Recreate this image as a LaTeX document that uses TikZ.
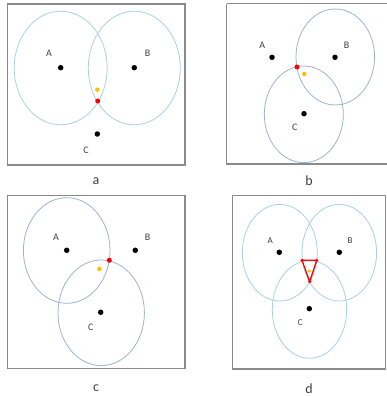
\documentclass[tikz,border=0pt]{standalone}
\usepackage{fontspec}
\setmainfont{Carlito}
\definecolor{lblue}{HTML}{A9D1E2}
\definecolor{gblue}{HTML}{9DB3CE}
\definecolor{framegray}{HTML}{8A8A8A}
\definecolor{ylw}{HTML}{FFC000}
\definecolor{txt}{HTML}{404040}
\begin{document}
\begin{tikzpicture}[x=1pt,y=-1pt,
  panel/.style={draw=framegray,line width=1.1pt},
  ringl/.style={draw=lblue,line width=0.8pt},
  ringg/.style={draw=gblue,line width=0.8pt},
  bdot/.style={circle,fill=black,inner sep=0pt,minimum size=5.5pt},
  rdot/.style={circle,fill=red,inner sep=0pt,minimum size=5pt},
  ydot/.style={circle,fill=ylw,inner sep=0pt,minimum size=4.5pt},
  lbl/.style={text=txt,font=\fontsize{10}{10}\selectfont,inner sep=0pt},
  captxt/.style={text=txt,font=\fontsize{14}{14}\selectfont,inner sep=0pt}]
\useasboundingbox (0,0) rectangle (387,396);
% ---------- panel a ----------
\draw[panel] (7.5,4) rectangle (185,165);
\draw[ringl] (60.7,68) ellipse [x radius=46.5,y radius=56.8];
\draw[ringl] (134.3,68) ellipse [x radius=46,y radius=56.8];
\node[bdot] (aA) at (60.7,67.7) {};
\node[bdot] (aB) at (134.3,67.7) {};
\node[bdot] (aC) at (97.3,134) {};
\node[rdot] (aR) at (97.7,101) {};
\node[ydot] (aY) at (97.3,89.7) {};
\node[lbl] (aLA) at (49,53.5) {A};
\node[lbl] (aLB) at (147.7,53.5) {B};
\node[lbl] (aLC) at (86,150.7) {C};
\node[captxt] (acap) at (96,181) {a};
% ---------- panel b ----------
\draw[panel] (226.7,3.7) -- (387,3.7) (226.7,3.7) -- (226.7,164) -- (387,164);
\draw[ringg] (335.3,57) ellipse [x radius=39.3,y radius=48];
\draw[ringg] (303.8,114.3) ellipse [x radius=39.5,y radius=48.3];
\node[bdot] (bA) at (272,57.3) {};
\node[bdot] (bB) at (335,57.3) {};
\node[bdot] (bC) at (304,113.7) {};
\node[rdot] (bR) at (297,67) {};
\node[ydot] (bY) at (304.3,74) {};
\node[lbl] (bLA) at (262.3,45.7) {A};
\node[lbl] (bLB) at (346.7,45.7) {B};
\node[lbl] (bLC) at (294.7,127.7) {C};
\node[captxt] (bcap) at (309,181) {b};
% ---------- panel c ----------
\draw[panel] (7.3,195.7) rectangle (185,368.3);
\draw[ringg] (66.7,250.5) ellipse [x radius=43.3,y radius=52.8];
\draw[ringg] (101.2,312.8) ellipse [x radius=43.2,y radius=52.8];
\node[bdot] (cA) at (66.7,250.3) {};
\node[bdot] (cB) at (135.3,250.3) {};
\node[bdot] (cC) at (100.7,312.3) {};
\node[rdot] (cR) at (109.3,260.3) {};
\node[ydot] (cY) at (99.3,269) {};
\node[lbl] (cLA) at (56,237.7) {A};
\node[lbl] (cLB) at (147.7,237.7) {B};
\node[lbl] (cLC) at (90.7,327.3) {C};
\node[captxt] (ccap) at (96,388) {c};
% ---------- panel d ----------
\draw[panel] (232.3,195.7) rectangle (385.7,369);
\draw[ringl] (279.8,252.7) ellipse [x radius=37.5,y radius=48.3];
\draw[ringl] (339.3,252.7) ellipse [x radius=37.3,y radius=48.3];
\draw[ringl] (309.5,309.5) ellipse [x radius=37.2,y radius=48.8];
\node[bdot] (dA) at (279.3,252.3) {};
\node[bdot] (dB) at (339.3,252.3) {};
\node[bdot] (dC) at (309.3,308.7) {};
\node[rdot,minimum size=3.5pt] (dR1) at (302,260.3) {};
\node[rdot,minimum size=3.5pt] (dR2) at (316.7,260.3) {};
\node[rdot,minimum size=3.5pt] (dR3) at (309.7,281.7) {};
\draw[red,line width=1.3pt,line join=round] (dR1.center) -- (dR2.center) -- (dR3.center) -- cycle;
\node[ydot,minimum size=3.5pt] (dY) at (309.3,271) {};
\node[lbl,font=\fontsize{9}{9}\selectfont] (dLA) at (270.3,240.3) {A};
\node[lbl,font=\fontsize{9}{9}\selectfont] (dLB) at (350,240.3) {B};
\node[lbl,font=\fontsize{9}{9}\selectfont] (dLC) at (300.3,322.7) {C};
\node[captxt] (dcap) at (309,389) {d};
\end{tikzpicture}
\end{document}
